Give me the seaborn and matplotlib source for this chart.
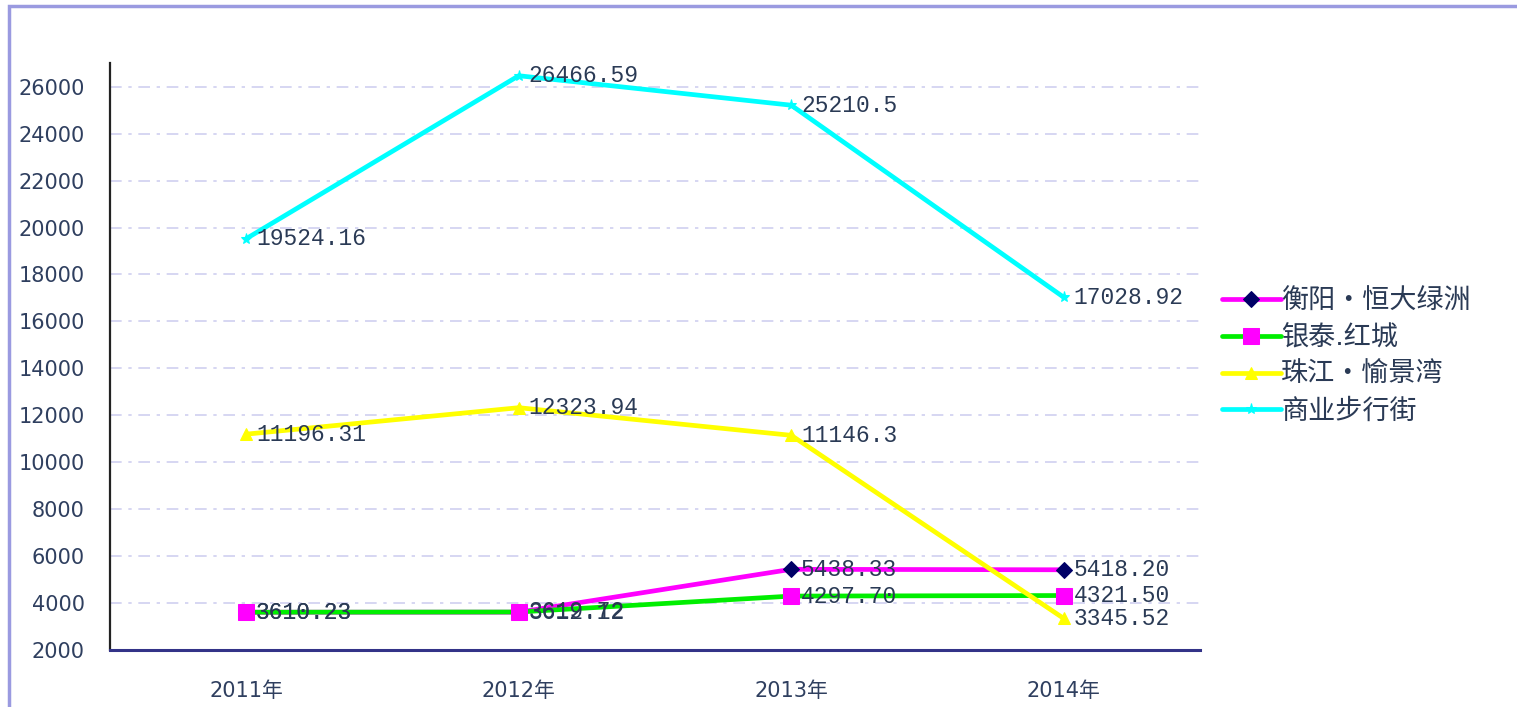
import pandas as pd
import matplotlib
matplotlib.use("Agg")
import matplotlib.pyplot as plt
import seaborn as sns
from matplotlib.patches import Rectangle
from matplotlib.ticker import FixedLocator

# data
years = ["2011年", "2012年", "2013年", "2014年"]
hengyang = [3610.23, 3612.12, 5438.33, 5418.20]
yintai = [3610.23, 3619.72, 4297.70, 4321.50]
zhujiang = [11196.31, 12323.94, 11146.3, 3345.52]
shangye = [19524.16, 26466.59, 25210.5, 17028.92]

hengyang_labels = ["3610.23", "3612.12", "5438.33", "5418.20"]
yintai_labels = ["3610.23", "3619.72", "4297.70", "4321.50"]
zhujiang_labels = ["11196.31", "12323.94", "11146.3", "3345.52"]
shangye_labels = ["19524.16", "26466.59", "25210.5", "17028.92"]

names = ["衡阳・恒大绿洲", "银泰.红城", "珠江・愉景湾", "商业步行街"]

sns.set_theme(style="white")
plt.rcParams['font.family'] = ['DejaVu Sans', 'Noto Sans CJK SC']

fig = plt.figure(figsize=(15.17, 7.07), dpi=100)
ax = fig.add_axes([0.0725, 0.0806, 0.7185, 0.83])

# outer lavender frame
fig.patches.append(Rectangle((0.006, -0.05), 1.2, 1.041, transform=fig.transFigure,
                             fill=False, edgecolor="#9a9ae0", linewidth=2.5))

series = [
    (hengyang, hengyang_labels, names[0], "#ff00ff", "D", "#000066", 8),
    (yintai, yintai_labels, names[1], "#00ee00", "s", "#ff00ff", 11),
    (zhujiang, zhujiang_labels, names[2], "#ffff00", "^", "#ffff00", 9),
    (shangye, shangye_labels, names[3], "#00ffff", "*", "#00ffff", 8),
]

for vals, labs, name, color, marker, mcolor, ms in series:
    df = pd.DataFrame({"year": years, "value": vals})
    sns.lineplot(data=df, x="year", y="value", ax=ax, color=color, linewidth=3.4,
                 marker=marker, markersize=ms, markerfacecolor=mcolor,
                 markeredgecolor=mcolor, label=name, sort=False)

for vals, labs, name, color, marker, mcolor, ms in series:
    for yr, v, t in zip(years, vals, labs):
        ax.annotate(t, (yr, v), xytext=(7, 0), textcoords="offset points",
                    va="center", ha="left", fontsize=16.5, color="#2a3a55",
                    family="Liberation Mono")

ax.set_xlim(-0.5, 3.5)
ax.set_ylim(2000, 27000)
ax.set_yticks(range(2000, 26001, 2000))
ax.set_xlabel("")
ax.set_ylabel("")

# horizontal dashed grid
for yv in range(4000, 26001, 2000):
    ax.axhline(yv, color="#d0d0f0", linewidth=1.2, linestyle=(0, (7, 4, 2, 4)), zorder=0)

for s in ["top", "right"]:
    ax.spines[s].set_visible(False)
ax.spines["left"].set_color("#222222")
ax.spines["left"].set_linewidth(1.6)
ax.spines["bottom"].set_color("#333388")
ax.spines["bottom"].set_linewidth(2.2)

ax.tick_params(axis="y", direction="in", length=6, width=1.2, color="#222222",
               labelsize=15, labelcolor="#2f3f5f", pad=18)
ax.tick_params(axis="x", which="major", length=0, labelsize=15, labelcolor="#2f3f5f", pad=22)
ax.xaxis.set_minor_locator(FixedLocator([-0.5, 0.5, 1.5, 2.5, 3.5]))
ax.tick_params(axis="x", which="minor", direction="in", length=14, width=1.8, color="#333388")

leg = ax.legend(loc="center left", bbox_to_anchor=(1.01, 0.5), frameon=False,
                fontsize=19.5, handlelength=2.2, handletextpad=0.0, labelspacing=0.4,
                borderaxespad=0)
for t in leg.get_texts():
    t.set_color("#2a3a55")

fig.savefig("out.png", dpi=100)
